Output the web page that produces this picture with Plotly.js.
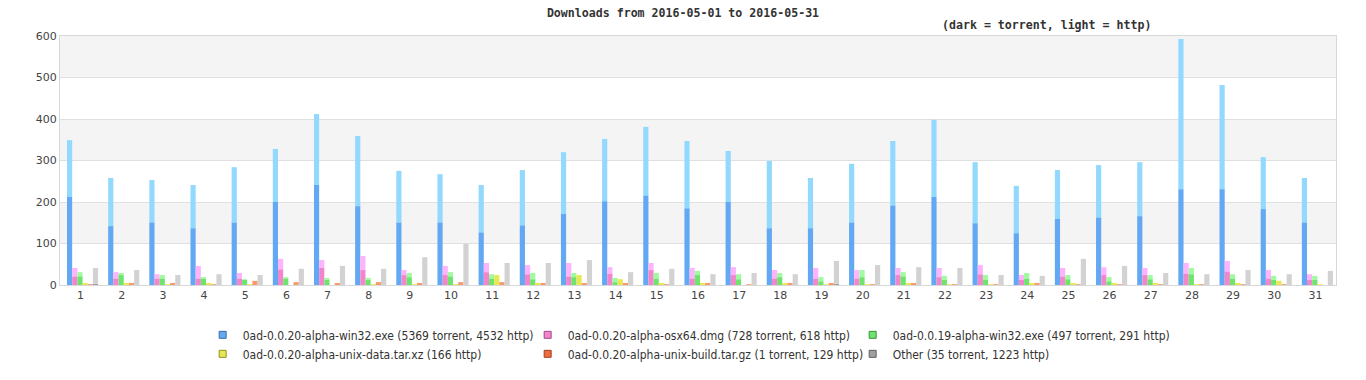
<!DOCTYPE html>
<html>
<head>
<meta charset="utf-8">
<script src="https://cdn.plot.ly/plotly-3.0.1.min.js"></script>
<style>html,body{margin:0;padding:0;background:#fff;}#chart{width:1366px;height:380px;}</style>
</head>
<body>
<div id="chart"></div>
<script>
// Days of May 2016
var days = [1,2,3,4,5,6,7,8,9,10,11,12,13,14,15,16,17,18,19,20,21,22,23,24,25,26,27,28,29,30,31];

// 0ad-0.0.20-alpha-win32.exe
var win32Torrent = [212,142,151,137,151,200,241,190,151,151,127,144,171,202,216,185,200,137,137,151,192,212,149,125,159,163,166,231,231,183,151];
var win32Http    = [137,116,102,104,133,128,171,169,124,116,114,133,149,150,165,162,123,162,121,141,155,186,147,114,118,126,130,362,251,125,107];

// 0ad-0.0.20-alpha-osx64.dmg
var osxTorrent = [21,16,16,16,16,38,41,36,24,24,31,26,21,28,36,16,24,16,16,16,24,19,26,12,21,24,24,28,33,16,12];
var osxHttp    = [20,15,10,30,13,25,19,34,12,22,22,22,32,15,17,25,19,20,25,20,17,22,22,12,20,19,17,25,25,20,14];

// 0ad-0.0.19-alpha-win32.exe
var w19Torrent = [21,24,16,16,12,16,12,12,19,21,16,14,19,7,16,24,14,19,9,19,21,12,12,16,14,9,14,26,16,12,12];
var w19Http    = [10,5,8,3,2,3,5,5,10,10,10,15,10,10,13,10,12,10,10,17,10,10,12,13,10,10,10,15,10,10,10];

// 0ad-0.0.20-alpha-unix-data.tar.xz (http only)
var dataTorrent = [0,0,0,0,0,0,0,0,0,0,0,0,0,0,0,0,0,0,0,0,0,0,0,0,0,0,0,0,0,0,0];
var dataHttp    = [5,5,2,5,2,0,0,2,2,2,24,5,24,14,5,5,0,5,2,2,5,2,2,5,5,5,5,2,5,10,2];

// 0ad-0.0.20-alpha-unix-build.tar.gz
var buildTorrent = [0,0,0,0,0,0,0,0,0,0,0,0,0,0,0,0,0,0,0,0,0,0,0,0,0,0,0,0,0,0,0];
var buildHttp    = [2,5,5,2,10,7,5,7,5,7,7,5,5,5,2,5,2,5,5,2,5,2,2,5,2,2,2,2,2,2,0];

// Other
var otherTorrent = [3,0,0,0,0,0,0,0,0,0,0,0,0,0,0,0,0,0,3,0,0,0,0,0,0,0,0,0,0,0,0];
var otherHttp    = [38,36,24,26,24,39,46,39,67,99,53,53,60,31,39,26,29,26,55,48,43,41,24,22,63,46,29,26,36,26,34];

var seriesNames = [
  "0ad-0.0.20-alpha-win32.exe (5369 torrent, 4532 http)",
  "0ad-0.0.20-alpha-osx64.dmg (728 torrent, 618 http)",
  "0ad-0.0.19-alpha-win32.exe (497 torrent, 291 http)",
  "0ad-0.0.20-alpha-unix-data.tar.xz (166 http)",
  "0ad-0.0.20-alpha-unix-build.tar.gz (1 torrent, 129 http)",
  "Other (35 torrent, 1223 http)"
];
var torrentSeries = [win32Torrent, osxTorrent, w19Torrent, dataTorrent, buildTorrent, otherTorrent];
var httpSeries = [win32Http, osxHttp, w19Http, dataHttp, buildHttp, otherHttp];

var darkColors  = ["#62a8f2", "#f285cc", "#6ee46e", "#e0e040", "#f07850", "#a0a0a0"];
var lightColors = ["#93d9fd", "#fdb4fd", "#a0fba0", "#e8e855", "#f89a6c", "#d2d2d2"];
var legendColors = ["#62a8f2", "#f285cc", "#6ee46e", "#e8e855", "#f06a40", "#a0a0a0"];
var legendLines  = ["#3a6ea8", "#a04c88", "#3c903c", "#909020", "#a04020", "#606060"];

var barW = 0.126, startOff = -0.33;
var traces = [];
for (var i = 0; i < 6; i++) {
  traces.push({
    type: 'bar', x: days, y: torrentSeries[i], base: 0,
    offset: startOff + i * barW, width: barW,
    marker: {color: darkColors[i], line: {width: 0}},
    showlegend: false, hoverinfo: 'skip'
  });
  traces.push({
    type: 'bar', x: days, y: httpSeries[i], base: torrentSeries[i],
    offset: startOff + i * barW, width: barW,
    marker: {color: lightColors[i], line: {width: 0}},
    showlegend: false, hoverinfo: 'skip'
  });
}
for (var j = 0; j < 6; j++) {
  traces.push({
    type: 'scatter', mode: 'markers', x: [null], y: [null],
    name: seriesNames[j],
    marker: {symbol: 'square', size: 7, color: legendColors[j], line: {width: 1, color: legendLines[j]}},
    showlegend: true
  });
}

var bands = [];
[[100,200],[300,400],[500,600]].forEach(function(b){
  bands.push({type:'rect', xref:'paper', yref:'y', x0:0, x1:1, y0:b[0], y1:b[1],
    fillcolor:'#f4f4f4', line:{width:0}, layer:'below'});
});

var layout = {
  width: 1366, height: 380,
  margin: {l: 60, r: 30, t: 36, b: 95},
  paper_bgcolor: '#ffffff', plot_bgcolor: '#ffffff',
  barmode: 'overlay',
  title: {
    text: 'Downloads from 2016-05-01 to 2016-05-31',
    font: {family: 'DejaVu Sans Mono', size: 11.6, color: '#333333', weight: 'bold'},
    x: 0.5, xref: 'container', xanchor: 'center',
    y: 0.966, yref: 'container', yanchor: 'middle'
  },
  annotations: [{
    text: '(dark = torrent, light = http)', showarrow: false,
    xref: 'paper', yref: 'paper', x: 0.690, y: 1.044, xanchor: 'left', yanchor: 'middle',
    font: {family: 'DejaVu Sans Mono', size: 11.6, color: '#333333', weight: 'bold'}
  }],
  xaxis: {
    range: [0.5, 31.5], tickmode: 'array', tickvals: days, ticktext: days.map(String),
    showgrid: false, zeroline: false, showline: true, linecolor: '#d8d8d8', linewidth: 1, mirror: true,
    ticks: '', tickfont: {family: 'DejaVu Sans', size: 11, color: '#444444'}, fixedrange: true
  },
  yaxis: {
    range: [0, 600], tickmode: 'array', tickvals: [0,100,200,300,400,500,600],
    showgrid: true, gridcolor: '#e0e0e0', gridwidth: 1, zeroline: false,
    showline: true, linecolor: '#d8d8d8', linewidth: 1, mirror: true,
    ticks: '', tickfont: {family: 'DejaVu Sans', size: 11, color: '#444444'}, fixedrange: true
  },
  shapes: bands,
  showlegend: true,
  legend: {
    orientation: 'h', xref: 'paper', x: 0.1118, xanchor: 'left',
    yref: 'container', y: 0.157, yanchor: 'top',
    entrywidth: 280, entrywidthmode: 'pixels', itemwidth: 30,
    font: {family: 'DejaVu Sans Condensed', size: 12, color: '#333333'},
    bgcolor: 'rgba(0,0,0,0)'
  }
};

Plotly.newPlot('chart', traces, layout, {displayModeBar: false, staticPlot: true});
</script>
</body>
</html>
